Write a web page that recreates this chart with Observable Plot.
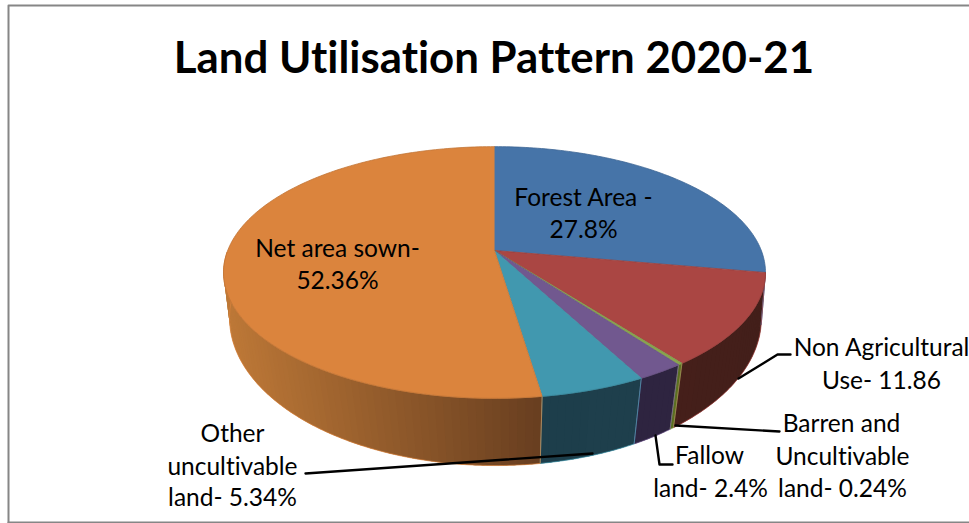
<!DOCTYPE html>
<html>
<head>
<meta charset="utf-8">
<style>
  html, body { margin: 0; padding: 0; background: #fff; }
  svg { display: block; font-variant-ligatures: none; }
</style>
<script src="https://cdn.jsdelivr.net/npm/d3@7"></script>
<script src="https://cdn.jsdelivr.net/npm/@observablehq/plot@0.6"></script>
</head>
<body>
<div id="chart"></div>
<script>
// Land use shares, clockwise from twelve o'clock (per cent)
const categories = ["Forest Area", "Non Agricultural Use", "Barren and Uncultivable land", "Fallow land", "Other uncultivable land", "Net area sown"];
const shares = [27.8, 11.86, 0.24, 2.4, 5.34, 52.36];
const topColors = ["#4674a8", "#aa4643", "#89a54e", "#71588f", "#4198af", "#db843d"];
// Wall shading, from the slice's first edge to its last
const wallStart = ["#4674a8", "#431f1a", "#5a7020", "#2e2440", "#1e3f4c", "#693f20"];
const wallEnd = ["#4674a8", "#451f1a", "#5a7020", "#2e2440", "#1d3e4b", "#bd7837"];

const titleText = "Land Utilisation Pattern 2020-21";
const labelLines = [
  "Forest Area -", "27.8%",
  "Net area sown-", "52.36%",
  "Non Agricultural", "Use- 11.86",
  "Barren and", "Uncultivable", "land- 0.24%",
  "Fallow", "land- 2.4%",
  "Other", "uncultivable", "land- 5.34%"
];
const labelX = [583, 583, 337, 337, 881, 881, 841, 842, 842, 709, 710, 232, 232, 232];
const labelY = [198, 230, 249, 281, 348, 381, 424, 457, 489, 456, 489, 434, 467, 498];

// Leader lines, as elbow paths running from the pie out to their labels
const leaderPaths = [
  [[738, 378], [777, 354], [790, 354]],
  [[675, 425], [779, 431]],
  [[655, 435], [659, 464], [672, 464]],
  [[592, 453], [305, 473]]
];

// Perspective projection of the tilted disc: upper rim and lower rim
const upperRim = {cx: 494, cy: 250, rx: 266.8, ry: 122, k: 0.1746};
const lowerRim = {cx: 495, cy: 298.4, rx: 263.7, ry: 145, k: 0.13};

function project(theta, rim) {
  const u = Math.sin(theta), v = Math.cos(theta), w = 1 + rim.k * v;
  return [rim.cx + rim.rx * u / w, rim.cy - rim.ry * v / w];
}

let cumulative = 0;
const slices = shares.map((s, i) => {
  const a0 = cumulative / 100 * 2 * Math.PI;
  cumulative += s;
  return {i, a0, a1: cumulative / 100 * 2 * Math.PI};
});

function angles(a0, a1, stepDegrees) {
  const n = Math.max(1, Math.ceil((a1 - a0) / (stepDegrees * Math.PI / 180)));
  return d3.range(n + 1).map(k => a0 + (a1 - a0) * k / n);
}

// Top faces: a fan from the centre round the rim
const topRows = slices.flatMap(({i, a0, a1}) => [
  {id: i, x: upperRim.cx, y: upperRim.cy},
  ...angles(a0, a1, 1).map(a => {
    const [x, y] = project(a, upperRim);
    return {id: i, x, y};
  })
]);

// Walls: bands along the visible front of the rim, each band running on under
// the next one so no seam shows between them
const visibleFrom = 1.746, visibleTo = 4.7;
const wallBands = [];
const wallOutlines = [];
for (const {i, a0, a1} of slices) {
  const from = Math.max(a0, visibleFrom), to = Math.min(a1, visibleTo);
  if (to <= from) continue;
  const as = angles(from, to, 1.5);
  const shade = d3.interpolateRgb(wallStart[i], wallEnd[i]);
  const xStart = project(from, upperRim)[0], xEnd = project(to, upperRim)[0];
  d3.pairs(as).forEach(([p], k) => {
    const id = `${i}-${k}`;
    const q = as[Math.min(k + 2, as.length - 1)];
    const fill = shade((project(p, upperRim)[0] - xStart) / (xEnd - xStart));
    const band = angles(p, q, 0.5);
    const ring = [...band.map(a => [a, upperRim]), ...band.slice().reverse().map(a => [a, lowerRim])];
    for (const [a, rim] of ring) {
      const [x, y] = project(a, rim);
      wallBands.push({id, x, y, fill});
    }
  });
  const fine = angles(from, to, 1);
  const ring = [...fine.map(a => [a, upperRim]), ...fine.slice().reverse().map(a => [a, lowerRim]), [from, upperRim]];
  for (const [a, rim] of ring) {
    const [x, y] = project(a, rim);
    wallOutlines.push({id: i, x, y});
  }
}

const labelRows = labelLines.map((text, i) => ({text, x: labelX[i], y: labelY[i]}));
const leaderRows = leaderPaths.flatMap((path, id) => path.map(([x, y]) => ({id, x, y})));
const frameRows = [[8, 522], [8, 5], [969, 5]].map(([x, y]) => ({x, y}));
const frameBottom = [[8, 522], [969, 522]].map(([x, y]) => ({x, y}));

const fontFamily = "Lato, Carlito, Calibri, sans-serif";

const chart = Plot.plot({
  width: 969,
  height: 523,
  margin: 0,
  x: {domain: [0, 969], range: [0, 969], axis: null},
  y: {domain: [0, 523], range: [0, 523], axis: null},
  color: {type: "identity"},
  style: {background: "#fff", fontFamily},
  marks: [
    Plot.line(frameRows, {x: "x", y: "y", stroke: "#868686", strokeWidth: 2}),
    Plot.line(frameBottom, {x: "x", y: "y", stroke: "#868686", strokeWidth: 2}),
    Plot.line(wallBands, {x: "x", y: "y", z: "id", fill: "fill", stroke: "none"}),
    Plot.line(wallOutlines, {x: "x", y: "y", z: "id", stroke: d => topColors[d.id], strokeWidth: 0.8, strokeOpacity: 0.85}),
    Plot.line(topRows, {x: "x", y: "y", z: "id", fill: d => topColors[d.id], stroke: d => d3.color(topColors[d.id]).darker(0.35).formatHex(), strokeWidth: 0.8}),
    Plot.line(leaderRows, {x: "x", y: "y", z: "id", stroke: "#000", strokeWidth: 2.4}),
    Plot.text(labelRows, {x: "x", y: "y", text: "text", fontSize: 24.5, fill: "#000", textAnchor: "middle", lineAnchor: "middle"}),
    Plot.text([titleText], {x: () => 493.5, y: () => 58, text: d => d, fontSize: 43.8, fontWeight: 700, fill: "#000", textAnchor: "middle", lineAnchor: "middle"})
  ]
});
document.getElementById("chart").append(chart);
</script>
</body>
</html>
